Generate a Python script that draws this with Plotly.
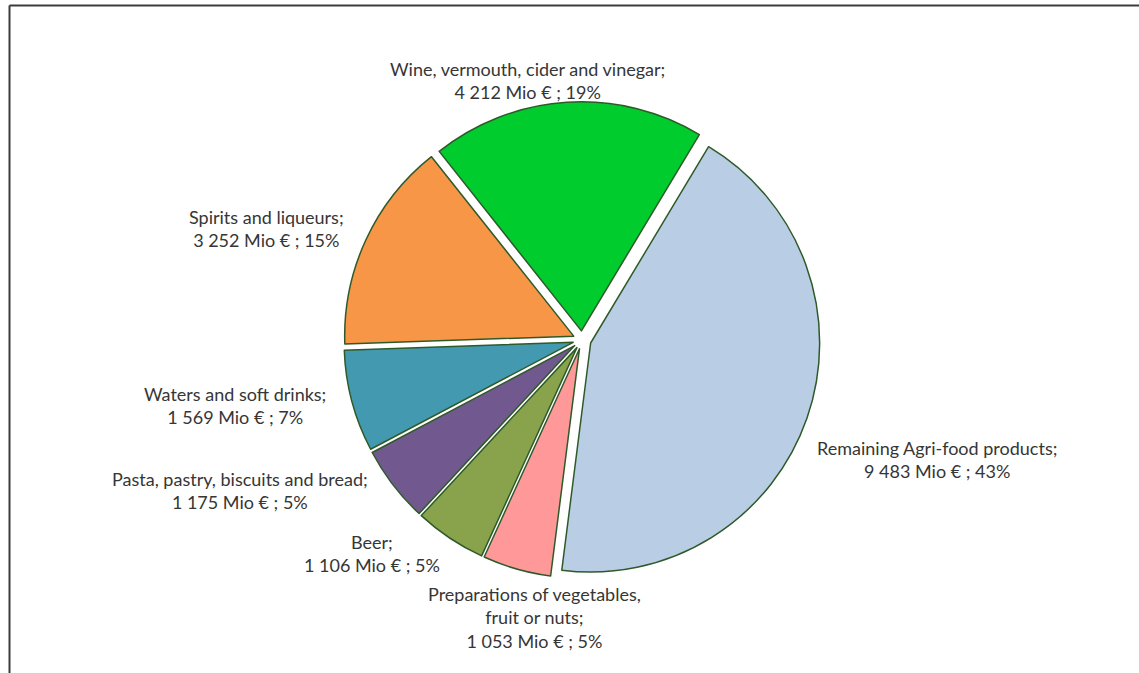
import plotly.graph_objects as go

# ---- data ----
categories = [
    "Remaining Agri-food products",
    "Preparations of vegetables, fruit or nuts",
    "Beer",
    "Pasta, pastry, biscuits and bread",
    "Waters and soft drinks",
    "Spirits and liqueurs",
    "Wine, vermouth, cider and vinegar",
]
values_mio_eur = [9483, 1053, 1106, 1175, 1569, 3252, 4212]
colors = ["#B9CDE5", "#FF9999", "#88A34C", "#71588F", "#4399B0", "#F79646", "#00CC2E"]

# label placement (pixel centres of each label block) and wrapping
label_wrap = {"Preparations of vegetables, fruit or nuts": "Preparations of vegetables,<br>fruit or nuts"}
label_px = [(937, 459), (534, 617), (372, 553), (240, 490), (235, 405), (266, 228), (527, 80)]

W, H = 1139, 673
total = sum(values_mio_eur)

fig = go.Figure()

# pie geometry
pull = 0.04
r0 = 229
cx, cy = 582, 340
box = 2 * r0 * (1 + pull)
dx0 = (cx - box / 2) / W
dx1 = (cx + box / 2) / W
dy0 = 1 - (cy + box / 2) / H
dy1 = dy0 + box / H

fig.add_trace(go.Pie(
    labels=categories,
    values=values_mio_eur,
    sort=False,
    direction="clockwise",
    rotation=31,
    pull=[pull] * len(values_mio_eur),
    marker=dict(colors=colors, line=dict(color="#2E5A29", width=1.5)),
    textinfo="none",
    hoverinfo="label+value+percent",
    showlegend=False,
    domain=dict(x=[dx0, dx1], y=[dy0, dy1]),
))

def fmt(v):
    return f"{v:,}".replace(",", " ")

for name, v, (px, py) in zip(categories, values_mio_eur, label_px):
    pct = round(100 * v / total)
    txt = f"{label_wrap.get(name, name)};<br>{fmt(v)} Mio € ; {pct}%"
    fig.add_annotation(
        x=px / W, y=1 - py / H, xref="paper", yref="paper",
        text=txt, showarrow=False, xanchor="center", yanchor="middle",
        align="center", font=dict(family="Lato", size=18, color="#363636"),
    )

# frame lines (top and left)
fig.add_shape(type="line", xref="paper", yref="paper",
              x0=9.5 / W, x1=1, y0=1 - 5.5 / H, y1=1 - 5.5 / H,
              line=dict(color="#3C3C3C", width=2))
fig.add_shape(type="line", xref="paper", yref="paper",
              x0=9.5 / W, x1=9.5 / W, y0=0, y1=1 - 5.5 / H,
              line=dict(color="#3C3C3C", width=2))

fig.update_layout(
    width=W, height=H,
    margin=dict(l=0, r=0, t=0, b=0),
    paper_bgcolor="white", plot_bgcolor="white",
)

fig.write_html(
    "out.html",
    config={"displayModeBar": False},
    post_script="document.body.style.margin='0px';document.body.style.overflow='hidden';",
)
